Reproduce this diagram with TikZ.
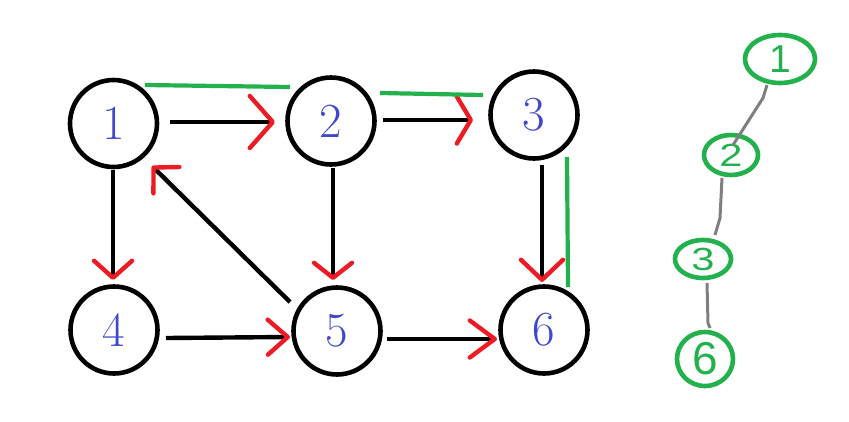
\documentclass[tikz,border=0pt]{standalone}
\usepackage{fontspec}
\newfontfamily\handfont{Liberation Sans}
\usetikzlibrary{arrows.meta,shapes.geometric,calc}
\definecolor{pblue}{RGB}{63,72,204}
\definecolor{pred}{RGB}{237,28,36}
\definecolor{pgreen}{RGB}{34,177,76}
\definecolor{pgray}{RGB}{127,127,127}
\begin{document}
\begin{tikzpicture}[x=1pt,y=-1pt,
  vert/.style={circle,draw=black,line width=4.6pt,minimum size=87pt,inner sep=0pt,
    text=pblue,font=\fontsize{49}{49}\selectfont},
  edge/.style={draw=black,line width=4.4pt},
  redtip/.style 2 args={-{Straight Barb[color=pred,length=#1,width=#2,line width=4.4pt,round]}},
  visit/.style={draw=pgreen,line width=4.2pt},
  tnode/.style={ellipse,draw=pgreen,line width=4.6pt,inner sep=0pt,text=pgreen},
  tedge/.style={draw=pgray,line width=3pt,line join=round}
]
\useasboundingbox (0,0) rectangle (849,421);
% graph vertices
\node[vert] (n1) at (113.5,123.5) {1};
\node[vert] (n2) at (331,121) {2};
\node[vert] (n3) at (534,115) {3};
\node[vert] (n4) at (114,330) {4};
\node[vert] (n5) at (337,331) {5};
\node[vert] (n6) at (544,330) {6};
% directed edges
\draw[edge,redtip={23pt}{52pt}] ($(n1)+(56.5,-1.5)$) -- ($(n2)+(-56,1)$);
\draw[edge,redtip={14pt}{47pt}] ($(n2)+(52,-1)$) -- ($(n3)+(-61,5)$);
\draw[edge,redtip={20pt}{42pt}] ($(n3)+(8,50)$) -- ($(n6)+(-2,-48)$);
\draw[edge,redtip={17pt}{38pt}] ($(n1)+(-0.5,46.5)$) -- ($(n4)+(-1,-50)$);
\draw[edge,redtip={20pt}{35pt}] ($(n4)+(52,8)$) -- ($(n5)+(-47,6)$);
\draw[edge,redtip={15pt}{38pt}] ($(n2)+(2,47)$) -- ($(n5)+(-4,-51)$);
\draw[edge,redtip={25pt}{37pt}] ($(n5)+(50,8)$) -- ($(n6)+(-47,9)$);
\draw[edge,redtip={18pt}{37pt}] ($(n5)+(-47,-29)$) -- ($(n1)+(38.5,42.5)$);
% green traversal marks
\coordinate (g1a) at (145,85);
\coordinate (g1b) at (290,87);
\coordinate (g2a) at (380,93);
\coordinate (g2b) at (483,95);
\coordinate (g3a) at (567,157);
\coordinate (g3b) at (568,287);
\draw[visit] (g1a) -- (g1b);
\draw[visit] (g2a) -- (g2b);
\draw[visit] (g3a) -- (g3b);
% DFS tree
\node[tnode,minimum width=70pt,minimum height=48pt,font=\handfont\fontsize{39}{39}\selectfont] (t1) at (780,59) {1};
\node[tnode,minimum width=54pt,minimum height=40pt,font=\handfont\fontsize{32}{32}\selectfont] (t2) at (731,155) {\scalebox{1.3}[1]{2}};
\node[tnode,minimum width=56pt,minimum height=38pt,font=\handfont\fontsize{32}{32}\selectfont] (t3) at (703,259) {\scalebox{1.3}[1]{3}};
\node[tnode,minimum width=56pt,minimum height=54pt,font=\handfont\fontsize{46}{46}\selectfont] (t6) at (705,359) {6};
\coordinate (a1) at (767,85);
\coordinate (a2) at (763,98);
\coordinate (a3) at (733,145);
\coordinate (b1) at (722,178);
\coordinate (b2) at (720,218);
\coordinate (b3) at (715,235);
\coordinate (c1) at (707,283);
\coordinate (c2) at (708,323);
\coordinate (c3) at (710,328);
\draw[tedge] (a1) -- (a2) -- (a3);
\draw[tedge] (b1) -- (b2) -- (b3);
\draw[tedge] (c1) -- (c2) -- (c3);
\end{tikzpicture}
\end{document}
